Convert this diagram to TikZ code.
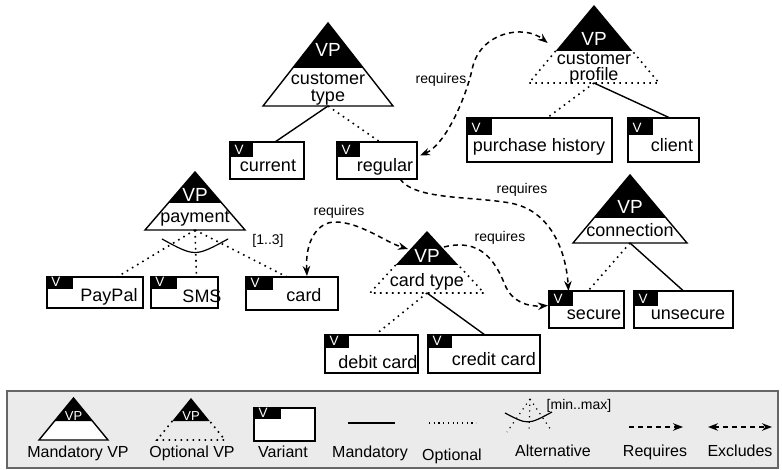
\documentclass[tikz,border=0pt]{standalone}
\usepackage{fontspec}
\setmainfont{Liberation Sans}
\usetikzlibrary{arrows.meta,calc}

\newcommand\fs[1]{\fontsize{#1}{#1}\selectfont}

\tikzset{
  vbox/.style={draw, fill=white, line width=1.4pt, inner sep=0pt, outer sep=0pt},
  vmark/.style={text=white, font=\fs{13.5}, inner sep=0pt, anchor=base},
  vname/.style={font=\fs{18}, inner sep=0pt, anchor=base},
  vpmark/.style={text=white, font=\fs{19}, inner sep=0pt, anchor=base},
  vpname/.style={font=\fs{18}, inner sep=0pt, anchor=base},
  tri/.style={line width=1.4pt, line join=miter},
  optl/.style={line width=1.6pt, dash pattern=on 1.6pt off 4.4pt},
  mandl/.style={line width=1.4pt},
  reql/.style={line width=1.5pt, dash pattern=on 5pt off 4pt},
  rlabel/.style={font=\fs{14}, inner sep=0pt, anchor=base},
  llabel/.style={font=\fs{16}, inner sep=0pt, anchor=base},
  >={Stealth[length=10pt,width=7.5pt]},
}

% variant box: name, x1, y1, x2, y2, tab x2, tab y2, text, text base point
\newcommand\myvar[9]{%
  \node[vbox, minimum width={(#4-#2)*1pt}, minimum height={(#5-#3)*1pt}] (#1) at ({(#2+#4)/2},{(#3+#5)/2}) {};
  \fill (#2,#3) rectangle (#6,#7);
  \node[vmark] (#1-v) at ({#2+9},{#7-2}) {V};
  \node[vname] (#1-t) at (#9) {#8};
}
% mandatory VP: name, cx, apex y, base y, half width, black y
\newcommand\mandvp[6]{%
  \coordinate (#1-apex) at (#2,#3);
  \coordinate (#1-bl) at ({#2-#5*(#6-#3)/(#4-#3)},#6);
  \coordinate (#1-br) at ({#2+#5*(#6-#3)/(#4-#3)},#6);
  \coordinate (#1) at (#2,#4);
  \fill (#1-apex) -- (#1-bl) -- (#1-br) -- cycle;
  \draw[tri] (#1-apex) -- ({#2-#5},#4) -- ({#2+#5},#4) -- cycle;
}
% optional VP
\newcommand\optvp[6]{%
  \coordinate (#1-apex) at (#2,#3);
  \coordinate (#1-bl) at ({#2-#5*(#6-#3)/(#4-#3)},#6);
  \coordinate (#1-br) at ({#2+#5*(#6-#3)/(#4-#3)},#6);
  \coordinate (#1) at (#2,#4);
  \fill (#1-apex) -- (#1-bl) -- (#1-br) -- cycle;
  \draw[optl] (#1-bl) -- ({#2-#5},#4) -- ({#2+#5},#4) -- (#1-br);
}

\begin{document}
\begin{tikzpicture}[x=1pt,y=-1pt]
\useasboundingbox (0,0) rectangle (782,470);

% ---------- variation points ----------
\mandvp{ct}{328}{23}{106}{65}{68}
\node[vpmark] (ct-vp) at (328,57) {VP};
\node[vpname] (ct-n1) at (328,84.5) {customer};
\node[vpname] (ct-n2) at (328,101.5) {type};

\optvp{cp}{594}{5}{83}{65}{51}
\node[vpmark] (cp-vp) at (594,46) {VP};
\node[vpname] (cp-n1) at (594,64.5) {customer};
\node[vpname] (cp-n2) at (594,81) {profile};

\mandvp{pay}{195}{172}{230}{50}{203}
\node[vpmark] (pay-vp) at (195,202) {VP};
\node[vpname] (pay-n) at (195,223) {payment};

\optvp{ctp}{427}{231}{293}{57}{265}
\node[vpmark] (ctp-vp) at (427,263) {VP};
\node[vpname] (ctp-n) at (427,287) {card type};

\mandvp{con}{630}{175}{243}{57}{218}
\node[vpmark] (con-vp) at (630,214) {VP};
\node[vpname] (con-n) at (630,237) {connection};

% ---------- variants ----------
\myvar{cur}{230}{142}{304}{179}{253}{157}{current}{268,172}
\myvar{reg}{337}{142}{417}{179}{360}{157}{regular}{385,172}
\myvar{ph}{467}{118}{612}{162}{492}{135}{purchase history}{539,152}
\myvar{cli}{628}{118}{699}{162}{653}{135}{client}{672,152}
\myvar{pp}{47}{277}{143}{308}{73}{289}{PayPal}{109,302}
\myvar{sms}{151}{277}{218}{308}{177}{289}{SMS}{202,303}
\myvar{card}{246}{277}{338}{310}{273}{290}{card}{304,302}
\myvar{deb}{325}{335}{418}{373}{349}{348}{debit card}{378,368}
\myvar{cre}{428}{335}{540}{373}{452}{348}{credit card}{494,366}
\myvar{sec}{549}{291}{624}{328}{573}{306}{secure}{594,320}
\myvar{uns}{634}{291}{733}{328}{658}{306}{unsecure}{688,320}

% ---------- decomposition links ----------
\draw[mandl] (ct) -- ($(cur.north)+(8,0)$);
\draw[optl] (ct) -- ($(reg.north)+(3,0)$);
\draw[optl] (cp) -- ($(ph.north)+(7.5,0)$);
\draw[mandl] (cp) -- ($(cli.north)+(6.5,0)$);
\draw[optl] (pay) -- ($(pp.north)+(22,0)$);
\draw[optl] (pay) -- ($(sms.north)+(12,0)$);
\draw[optl] (pay) -- ($(card.north)+(-5,0)$);
\draw[mandl, line width=1.2pt] (162,239) .. controls (195,257) .. (228,239);
\node[rlabel] (alt-card) at (268,245) {[1..3]};
\draw[optl] (ctp) -- ($(deb.north)+(3.5,0)$);
\draw[mandl] (ctp) -- ($(cre.north)+(1,0)$);
\draw[optl] (con) -- ($(sec.north)+(1.5,0)$);
\draw[mandl] (con) -- ($(uns.north)+(0,0)$);

% ---------- requires ----------
\draw[reql,<->] ($(reg.east)+(3,-5)$) .. controls (445,145) and (465,100) .. (472,70)
   .. controls (479,32) and (524,24) .. ($(cp-bl)+(-8,-8)$);
\node[rlabel] (rq1) at (441,84) {requires};

\draw[reql,->] ($(reg.south)+(23,0)$) .. controls (415,200) and (470,196) .. (510,203)
   .. controls (550,210) and (566,250) .. ($(sec.north)+(-18,0)$);
\node[rlabel] (rq2) at (522,194) {requires};

\draw[reql,->] ($(ctp-apex)+(17,16)$) .. controls (480,238) and (495,260) .. (505,285)
   .. controls (512,302) and (528,307) .. ($(sec.west)+(-1,-4)$);
\node[rlabel] (rq3) at (500,242) {requires};

\draw[reql,<->] ($(card.north)+(15,-1)$) .. controls (305,240) and (318,222) .. (335,222)
   .. controls (360,222) and (385,242) .. ($(ctp-apex)+(-19,18)$);
\node[rlabel] (rq4) at (339,216) {requires};

% ---------- legend ----------
\draw[draw=black!60, fill=black!8, line width=1.2pt] (7,391) rectangle (778,468);

\fill[white] (39,440) -- (108,440) -- (73.5,398) -- cycle;
\mandvp{lm}{73.5}{398}{440}{34.5}{421}
\node[vpmark, font=\fs{13}] (lm-vp) at (73.5,420) {VP};
\node[llabel] (lm-t) at (78,457) {Mandatory VP};

\optvp{lo}{191}{398}{440}{34}{421}
\node[vpmark, font=\fs{13}] (lo-vp) at (191,420) {VP};
\node[llabel] (lo-t) at (192,457) {Optional VP};

\myvar{lv}{254}{408}{315}{441}{281}{419}{}{284,430}
\node[llabel] (lv-t) at (283,457) {Variant};

\draw[mandl] (348,423) -- (395,423);
\node[llabel] (lmand-t) at (370,457) {Mandatory};

\draw[optl, line width=1.2pt, dash pattern=on 1.2pt off 3.5pt] (429,423) -- (476,423);
\node[llabel] (lopt-t) at (452,460) {Optional};

\draw[mandl, line width=1.2pt] (505,413) .. controls (528,425) .. (552,412);
\draw[optl, line width=1.2pt, dash pattern=on 1.2pt off 4.5pt] (530,399) -- (507,432);
\draw[optl, line width=1.2pt, dash pattern=on 1.2pt off 4.5pt] (530,399) -- (529,432);
\draw[optl, line width=1.2pt, dash pattern=on 1.2pt off 4.5pt] (530,399) -- (551,430);
\node[rlabel] (lalt-mm) at (579,409) {[min..max]};
\node[llabel] (lalt-t) at (553,456) {Alternative};

\draw[reql,->] (629,427) -- (683,427);
\node[llabel] (lreq-t) at (655,456) {Requires};

\draw[reql,<->] (708,427) -- (772,427);
\node[llabel] (lexc-t) at (740,456) {Excludes};

\end{tikzpicture}
\end{document}
